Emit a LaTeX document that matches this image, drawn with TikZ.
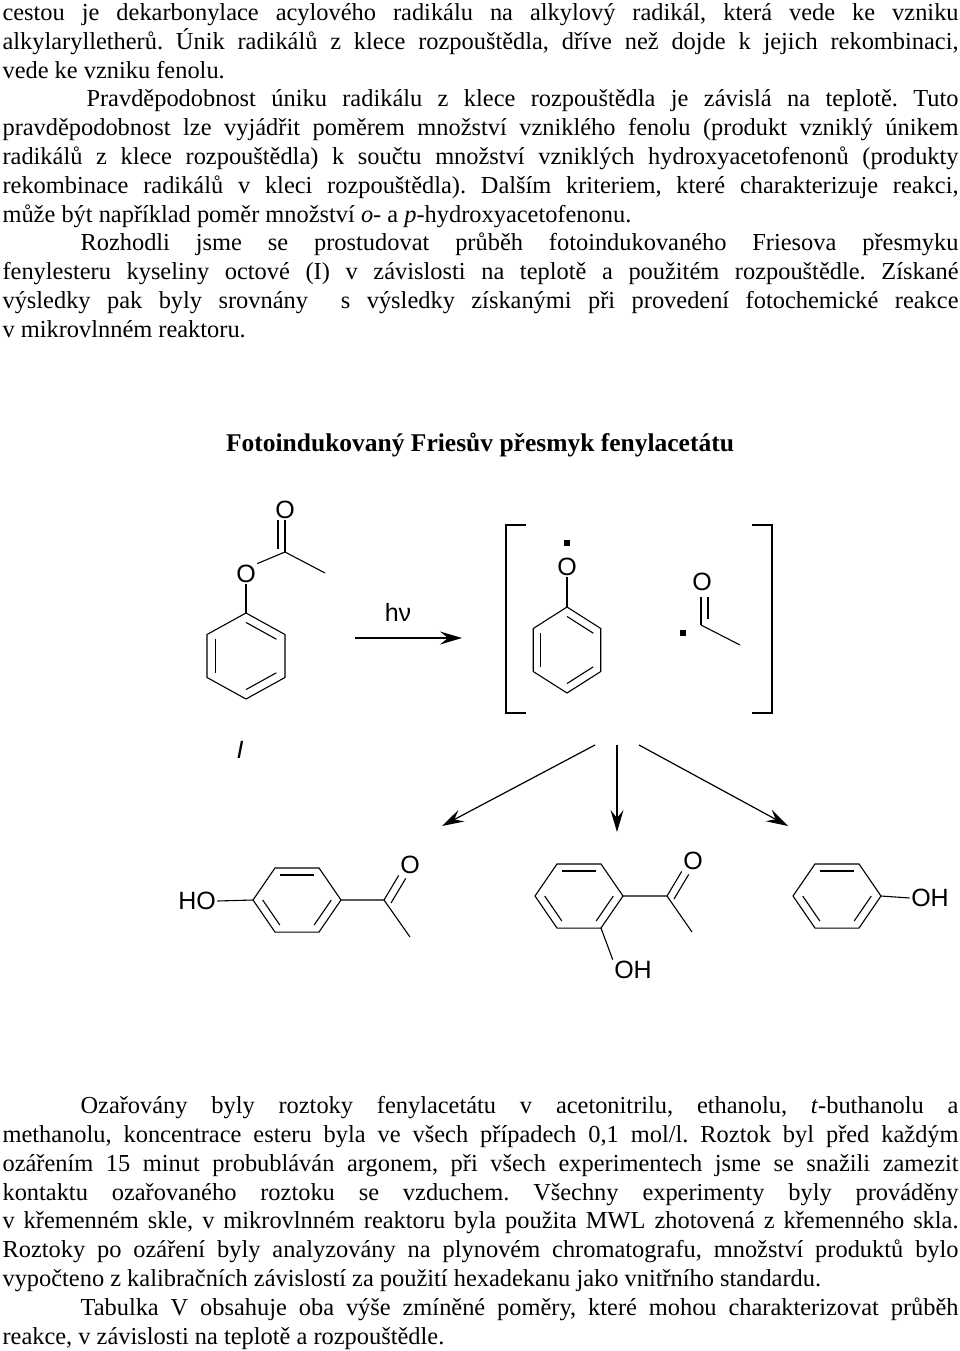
\documentclass[tikz,border=0pt]{standalone}
\usepackage{fontspec}
\setmainfont{Liberation Serif}
\newfontfamily\chemfont{Liberation Sans}
\usetikzlibrary{arrows.meta,calc}

% hexagon: name, centre x, centre y, start angle, x radius, y radius
\newcommand{\hexring}[6]{%
  \coordinate (#1c) at (#2,#3);
  \foreach \k in {1,...,6}{
    \coordinate (#1\k) at ({#2+#5*cos(#4+60*(\k-1))},{#3-#6*sin(#4+60*(\k-1))});
  }
  \draw (#11)--(#12)--(#13)--(#14)--(#15)--(#16)--cycle;
}
% inner line of a double bond in a ring
\newcommand{\innerbond}[3]{%
  \draw ($(#1#2)!0.22!(#1c)$)--($(#1#3)!0.22!(#1c)$);
}
\tikzset{
  atom/.style={font=\chemfont\fontsize{25}{25}\selectfont, inner sep=1pt},
  txt/.style={anchor=north west, text width=956pt, align=justify, inner sep=0pt,
    font=\fontsize{24.4}{28.8}\selectfont\frenchspacing},
  rxn/.style={line width=1.2pt, -{Stealth[length=22pt,width=13pt,inset=8pt]}}
}

\begin{document}
\begin{tikzpicture}[x=1pt,y=-1pt,line width=1.1pt]
  \useasboundingbox (0,0) rectangle (960,1351);

  % text above
  \node[txt] (parA) at (2,3) {%
    cestou je dekarbonylace acylového radikálu na alkylový radikál, která vede ke vzniku\linebreak
    alkylarylletherů. Únik radikálů z~klece rozpouštědla, dříve než dojde k~jejich rekombinaci,\linebreak
    vede ke vzniku fenolu.\par
    \hspace*{84pt}Pravděpodobnost úniku radikálu z~klece rozpouštědla je závislá na teplotě. Tuto\linebreak
    pravděpodobnost lze vyjádřit poměrem množství vzniklého fenolu (produkt vzniklý únikem\linebreak
    radikálů z~klece rozpouštědla) k~součtu množství vzniklých hydroxyacetofenonů (produkty\linebreak
    rekombinace radikálů v~kleci rozpouštědla). Dalším kriteriem, které charakterizuje reakci,\linebreak
    může být například poměr množství \textit{o}- a \textit{p}-hydroxyacetofenonu.\par
    \hspace*{78pt}Rozhodli jsme se prostudovat průběh fotoindukovaného Friesova přesmyku\linebreak
    fenylesteru kyseliny octové (I) v~závislosti na teplotě a použitém rozpouštědle. Získané\linebreak
    výsledky pak byly srovnány \ s~výsledky získanými při provedení fotochemické reakce\linebreak
    v~mikrovlnném reaktoru.};

  \node[font=\fontsize{25.5}{28.8}\selectfont\bfseries] (title) at (480,445)
    {Fotoindukovaný Friesův přesmyk fenylacetátu};

  % phenyl acetate (I)
  \hexring{a}{246}{656}{90}{45}{43}
  \innerbond{a}{1}{6}
  \innerbond{a}{2}{3}
  \innerbond{a}{4}{5}
  \node[atom] (aO) at (246,574) {O};
  \coordinate (aC) at (285,552);
  \node[atom] (aOd) at (285,510) {O};
  \coordinate (aMe) at (325,573);
  \draw (a1)--(aO.south);
  \draw (aO.north east)--(aC)--(aMe);
  \draw (aC)--(aOd.south);
  \draw ($(aC)+(-7,-3)$)--($(aOd.south)+(-7,0)$);
  \node[atom, font=\chemfont\itshape\fontsize{25}{25}\selectfont] (lblI) at (240,750) {I};

  % h nu arrow
  \coordinate (hvA) at (355,638);
  \coordinate (hvB) at (462,638);
  \draw[rxn] (hvA)--(hvB);
  \node[atom] (hv) at (398,612) {hν};

  % brackets
  \draw (526,525)--(506,525)--(506,713)--(526,713);
  \draw (752,525)--(772,525)--(772,713)--(752,713);

  % phenoxy radical
  \hexring{b}{567}{650}{90}{39}{43}
  \innerbond{b}{1}{6}
  \innerbond{b}{2}{3}
  \innerbond{b}{4}{5}
  \node[atom] (bO) at (567,567) {O};
  \draw (b1)--(bO.south);
  \fill (564,540) rectangle (570,546);

  % acetyl radical
  \node[atom] (cO) at (702,582) {O};
  \coordinate (cC) at (701,625);
  \coordinate (cMe) at (740,645);
  \draw (cC)--(cMe);
  \draw (cC)--(701,597);
  \draw (708,619)--(708,597);
  \fill (680,630) rectangle (686,636);

  % branching arrows
  \coordinate (sL) at (595,745);
  \coordinate (sM) at (617,745);
  \coordinate (sR) at (639,745);
  \coordinate (tL) at (442,826);
  \coordinate (tM) at (617,832);
  \coordinate (tR) at (788,826);
  \draw[rxn] (sL)--(tL);
  \draw[rxn] (sM)--(tM);
  \draw[rxn] (sR)--(tR);

  % p-hydroxyacetophenone
  \hexring{p}{297}{900}{0}{44}{37}
  \innerbond{p}{2}{3}
  \innerbond{p}{4}{5}
  \innerbond{p}{6}{1}
  \node[atom] (pHO) at (197,901) {HO};
  \draw (pHO.east)--(p4);
  \coordinate (pC) at (384,900);
  \node[atom] (pO) at (410,865) {O};
  \coordinate (pMe) at (410,937);
  \draw (p1)--(pC)--(pMe);
  \draw (pC)--(pO.south west);
  \draw ($(pC)+(7,3)$)--($(pO.south west)+(7,3)$);

  % o-hydroxyacetophenone
  \hexring{o}{579}{896}{0}{44}{37}
  \innerbond{o}{2}{3}
  \innerbond{o}{4}{5}
  \innerbond{o}{6}{1}
  \coordinate (oC) at (667,896);
  \node[atom] (oO) at (693,861) {O};
  \coordinate (oMe) at (692,932);
  \draw (o1)--(oC)--(oMe);
  \draw (oC)--(oO.south west);
  \draw ($(oC)+(7,3)$)--($(oO.south west)+(7,3)$);
  \node[atom] (oOH) at (633,970) {OH};
  \draw (o6)--(oOH.north west);

  % phenol
  \hexring{f}{837}{896}{0}{44}{37}
  \innerbond{f}{2}{3}
  \innerbond{f}{4}{5}
  \innerbond{f}{6}{1}
  \node[atom] (fOH) at (930,898) {OH};
  \draw (f1)--(fOH.west);

  % text below
  \node[txt] (parB) at (2,1096) {%
    \hspace*{78pt}Ozařovány byly roztoky fenylacetátu v~acetonitrilu, ethanolu, \textit{t}-buthanolu a\linebreak
    methanolu, koncentrace esteru byla ve všech případech 0,1 mol/l. Roztok byl před každým\linebreak
    ozářením 15 minut probubláván argonem, při všech experimentech jsme se snažili zamezit\linebreak
    kontaktu ozařovaného roztoku se vzduchem. Všechny experimenty byly prováděny\linebreak
    v~křemenném skle, v~mikrovlnném reaktoru byla použita MWL zhotovená z~křemenného skla.\linebreak
    Roztoky po ozáření byly analyzovány na plynovém chromatografu, množství produktů bylo\linebreak
    vypočteno z~kalibračních závislostí za použití hexadekanu jako vnitřního standardu.\par
    \hspace*{78pt}Tabulka V obsahuje oba výše zmíněné poměry, které mohou charakterizovat průběh\linebreak
    reakce, v~závislosti na teplotě a rozpouštědle.};
\end{tikzpicture}
\end{document}
